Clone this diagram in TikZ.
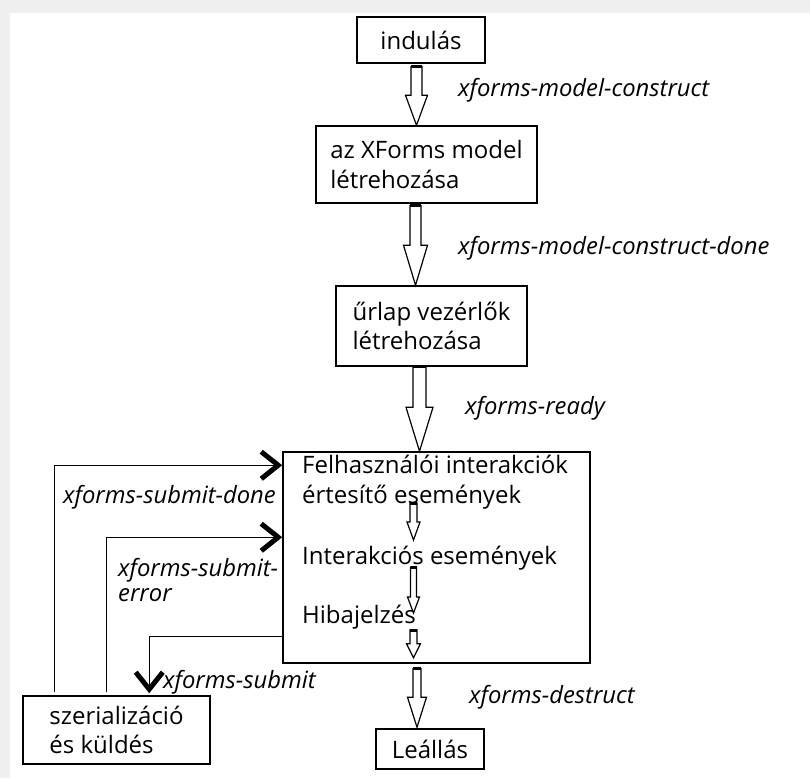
\documentclass[tikz,border=0pt]{standalone}
\usepackage{fontspec}
\setmainfont{Open Sans}
\usetikzlibrary{arrows.meta}
\usetikzlibrary{positioning}
\usetikzlibrary{calc}
\definecolor{framegray}{HTML}{F0F0F0}
\newcommand{\boxfont}{\fontsize{24}{29.5}\selectfont}
\newcommand{\eventfont}{\fontsize{23.8}{29}\selectfont\itshape}
% hollow block arrow: from, to, shaft half width, head half width, head length
\newcommand{\fatarrow}[5]{%
  \draw[line width=1.2pt, line join=miter, fill=white] let \p1=(#1), \p2=(#2) in
    (\x1-#3,\y1) -- (\x1+#3,\y1) -- (\x1+#3,\y2+#5) -- (\x1+#4,\y2+#5)
    -- (\x1,\y2) -- (\x1-#4,\y2+#5) -- (\x1-#3,\y2+#5) -- cycle;
  \draw[line width=3pt] let \p1=(#1) in (\x1-#3,\y1) -- (\x1+#3,\y1);
}

\begin{document}
\begin{tikzpicture}[x=1pt, y=-1pt,
	box/.style={draw, line width=1.5pt, align=left, inner sep=0pt, font=\boxfont},
	stagetext/.style={anchor=west, align=left, inner sep=0pt, font=\boxfont},
	eventlabel/.style={anchor=west, align=left, inner sep=0pt, font=\eventfont},
	loopline/.style={line width=1.5pt, -{Straight Barb[length=17pt, width=27pt, line width=5pt]}}]
	% frame
	\useasboundingbox (0,0) rectangle (810,778);
	\fill[framegray] (0,0) rectangle (810,778);
	\fill[white] (10,13) rectangle (810,778);
	% boxes
	\node[box, minimum width=128, minimum height=46] (start) at (421,40) {indulás};
	\node[box, minimum width=221, minimum height=77] (model) at (426.5,164.5) {az XForms model\\létrehozása};
	\node[box, minimum width=191, minimum height=80] (ctrl) at (431.5,326) {űrlap vezérlők\\létrehozása};
	\node[box, minimum width=307, minimum height=211] (inter) at (436.5,557.5) {};
	\node[box, minimum width=187, minimum height=68] (szer) at (116.5,730) {szerializáció\\és küldés};
	\node[box, minimum width=108, minimum height=40] (stop) at (430,749) {Leállás};
	% inside the big box
	\node[stagetext] (notify) at (302,482) {Felhasználói interakciók\\értesítő események};
	\node[stagetext] (interact) at (302,558) {Interakciós események};
	\node[stagetext] (error) at (302,617) {Hibajelzés};
	% event names
	\node[eventlabel] (lconstruct) at (458,90) {xforms-model-construct};
	\node[eventlabel] (ldone) at (458,248) {xforms-model-construct-done};
	\node[eventlabel] (lready) at (465,408) {xforms-ready};
	\node[eventlabel] (lsubdone) at (63,497) {xforms-submit-done};
	\node[eventlabel, font=\fontsize{23.8}{25}\selectfont\itshape] (lsuberr) at (118,580) {xforms-submit-\\error};
	\node[eventlabel] (lsubmit) at (163,682) {xforms-submit};
	\node[eventlabel] (ldestruct) at (469,697) {xforms-destruct};
	% main flow
	\fatarrow{[xshift=-4.5pt,yshift=-3pt]start.south}{model.north}{5.5pt}{11pt}{30pt}
	\fatarrow{[xshift=-11pt,yshift=-2pt]model.south}{ctrl.north}{5.5pt}{12pt}{40pt}
	\fatarrow{[xshift=-12pt]ctrl.south}{inter.north}{6.5pt}{13.5pt}{44pt}
	\fatarrow{[xshift=-19.5pt,yshift=-5pt]inter.south}{[yshift=1pt]stop.north}{4pt}{9.5pt}{30pt}
	% steps inside
	\coordinate (ix) at (413.5,0);
	\fatarrow{$(ix |- notify)+(0,21)$}{$(ix |- interact)+(0,-18)$}{3.5pt}{6.5pt}{18pt}
	\fatarrow{$(ix |- interact)+(0,9)$}{$(ix |- error)+(0,-4)$}{3pt}{6pt}{16pt}
	\fatarrow{$(ix |- error)+(0,13)$}{$(ix |- inter.south)+(0,-6)$}{3.5pt}{7pt}{14pt}
	% submission loop
	\draw[loopline] ($(szer.north west)+(32,-3)$) |- ($(inter.north west)+(0,14)$);
	\draw[loopline] ($(szer.north west)+(84,-3)$) |- ($(inter.north west)+(0,86)$);
	\draw[loopline] ($(inter.north west)+(0,185)$) -| ($(szer.north west)+(127,-2)$);
\end{tikzpicture}
\end{document}
